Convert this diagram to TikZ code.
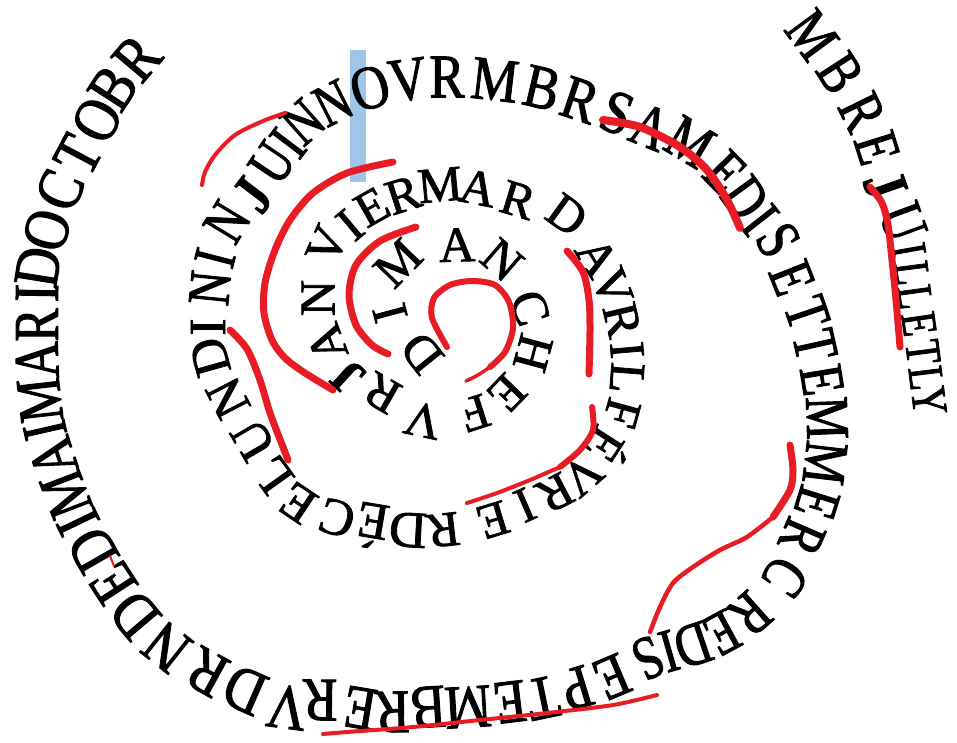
\documentclass[tikz,border=0pt]{standalone}
\usepackage{fontspec}
\setmainfont{Liberation Serif}[FakeBold=1.5]
\newfontfamily\narrowserif{Liberation Serif}[FakeStretch=0.85,FakeBold=1.5]
\newfontfamily\condserif{Liberation Serif}[FakeStretch=0.78,FakeBold=1.5]
\usetikzlibrary{calc}
\definecolor{mred}{RGB}{232,28,36}
\definecolor{mblue}{RGB}{160,196,234}
\tikzset{
  redstroke/.style={draw=mred, line width=#1, line cap=round, line join=round},
  redstroke/.default=6pt,
  letter/.style={inner sep=0pt, anchor=center},
}
% #1 font, #2 points (previous, centres..., next), #3 letters
\newcommand\placechunk[3]{%
  \foreach \px/\py [count=\k from 0] in {#2} {\coordinate (q\k) at (\px,\py);}
  \foreach \ch [count=\k] in {#3} {%
    \pgfmathtruncatemacro\kp{\k-1}%
    \pgfmathtruncatemacro\kn{\k+1}%
    \path let \p1=($(q\kn)-(q\kp)$), \n1={atan2(\y1,\x1)} in
      node[letter, font=#1, rotate=\n1] at (q\k) {\ch};
  }%
}
\begin{document}
\begin{tikzpicture}[x=1pt,y=-1pt]
\useasboundingbox (0,0) rectangle (957,742);
% blue bar
\fill[mblue] (350,50) rectangle (366,182);

% turn 1
\placechunk{\fontsize{50}{50}\selectfont}
  {438/373, 422/353, 390/313, 398/263, 457/245, 502/260, 530/308, 533/353, 507/393, 475/413, 423/420, 382/393, 348/377}
  {D,I,M,A,N,C,H,E,F,V,R}
% turn 2
\placechunk{\fontsize{50}{50}\selectfont}
  {382/393, 348/377, 327/343, 318/298, 327/245, 350/225, 372/207, 403/195, 440/185, 478/188, 518/200, 567/215, 597/257}
  {{\bfseries J},A,N,V,I,E,R,M,A,R,D}
\placechunk{\fontsize{50}{50}\selectfont}
  {567/215, 597/257, 612/287, 622/320, 627/350, 627/378, 622/413, 608/447, 582/475, 555/493, 525/505, 493/520, 443/530, 408/530}
  {A,V,R,I,L,F,É,V,R,I,E,R}
\placechunk{\fontsize{52}{52}\selectfont}
  {443/530, 408/530, 372/526, 337/518, 298/503, 273/475, 253/440, 228/398, 210/357, 208/327, 210/288}
  {D,É,C,E,L,U,N,D,I}
% turn 3
\placechunk{\condserif\fontsize{60}{60}\selectfont}
  {208/327, 210/288, 215/258, 227/222, 253/195, 272/163, 288/143, 303/122, 333/103, 370/88}
  {N,I,N,{\bfseries J},U,I,N,N}
\placechunk{\narrowserif\fontsize{62}{62}\selectfont}
  {333/103, 370/88, 408/80, 447/77, 495/80, 542/88, 580/100, 617/113, 650/127}
  {O,V,R,M,B,R,S}
\placechunk{\condserif\fontsize{62}{62}\selectfont}
  {617/113, 650/127, 690/142, 725/172, 745/198, 760/220, 778/240, 792/278, 807/313, 815/345, 822/380, 827/418, 825/463, 817/503, 802/537, 785/577}
  {A,M,E,D,I,S,E,T,T,E,M,M,E,R}
\placechunk{\condserif\fontsize{62}{62}\selectfont}
  {802/537, 785/577, 750/614, 722/633, 693/645, 669/651, 648/658, 612/677}
  {C,R,E,D,I,S}
\placechunk{\narrowserif\fontsize{62}{62}\selectfont}
  {648/658, 612/677, 577/688, 543/698, 510/702, 468/707, 428/707, 392/712, 360/708, 320/700, 287/707}
  {E,P,T,E,M,B,R,E,R}
\placechunk{\narrowserif\fontsize{64}{64}\selectfont}
  {320/700, 287/707, 245/690, 207/672, 167/647, 135/615, 113/583, 93/550, 78/522, 66/494}
  {V,D,R,N,D,E,D,I}
\placechunk{\condserif\fontsize{64}{64}\selectfont}
  {78/522, 66/494, 53/457, 45/430, 40/400, 37/360, 37/325, 37/293}
  {M,A,I,M,A,R}
\placechunk{\narrowserif\fontsize{64}{64}\selectfont}
  {37/325, 37/293, 38/267, 47/230, 60/190, 78/155, 97/120, 113/88, 137/58, 160/32}
  {I,D,O,C,T,O,B,R}
% outer piece
\placechunk{\condserif\fontsize{62}{62}\selectfont}
  {790/5, 812/35, 840/73, 862/112, 877/148, 885/185, 903/222, 909/250}
  {M,B,R,E,{\bfseries J},U}
\placechunk{\condserif\fontsize{50}{50}\selectfont}
  {903/222, 909/250, 912/273, 915/297, 919/324, 923/352, 926/378, 929/401, 932/425}
  {I,L,L,E,T,L,Y}

% red strokes
\draw[redstroke=6pt] plot[smooth] coordinates {(447,347) (432,318) (434,298) (450,285) (472,281) (495,285) (509,302) (513,328) (505,352) (490,367)};
\draw[redstroke=3.5pt] plot[smooth] coordinates {(490,367) (478,375) (466,381)};
\draw[redstroke=7pt] plot[smooth] coordinates {(416,227) (380,241) (356,265) (349,295) (356,325) (372,345) (388,354)};
\draw[redstroke=7pt] plot[smooth] coordinates {(393,162) (347,173) (313,193) (290,220) (275,250) (265,283) (264,313) (272,340) (285,358) (305,373) (333,390)};
\draw[redstroke=4pt] plot[smooth] coordinates {(285,113) (263,121) (235,135) (215,155) (205,172) (202,185)};
\draw[redstroke=8pt] plot[smooth] coordinates {(603,120) (640,127) (680,147) (707,170) (727,200) (740,228)};
\draw[redstroke=7pt] plot[smooth] coordinates {(567,251) (583,272) (589,300) (590,330) (589,374)};
\draw[redstroke=6pt] plot[smooth] coordinates {(592,407) (593,430) (580,450) (560,467)};
\draw[redstroke=4pt] plot[smooth] coordinates {(560,467) (530,480) (497,493) (467,503)};
\draw[redstroke=7pt] plot[smooth] coordinates {(230,330) (247,349) (260,380) (270,413) (283,447) (288,460)};
\draw[redstroke=7pt] plot[smooth] coordinates {(790,445) (793,470) (790,490) (773,517)};
\draw[redstroke=4.5pt] plot[smooth] coordinates {(773,517) (747,537) (720,550) (693,567) (673,583) (660,607) (650,632)};
\draw[redstroke=4pt] plot[smooth] coordinates {(657,695) (613,705) (547,713) (480,720) (413,727) (347,732) (323,734)};
\draw[redstroke=7pt] plot[smooth] coordinates {(870,187) (882,203) (888,225) (892,260) (896,300) (900,347)};
\draw[redstroke=2pt] (110,556) -- (114,566);
\end{tikzpicture}
\end{document}
